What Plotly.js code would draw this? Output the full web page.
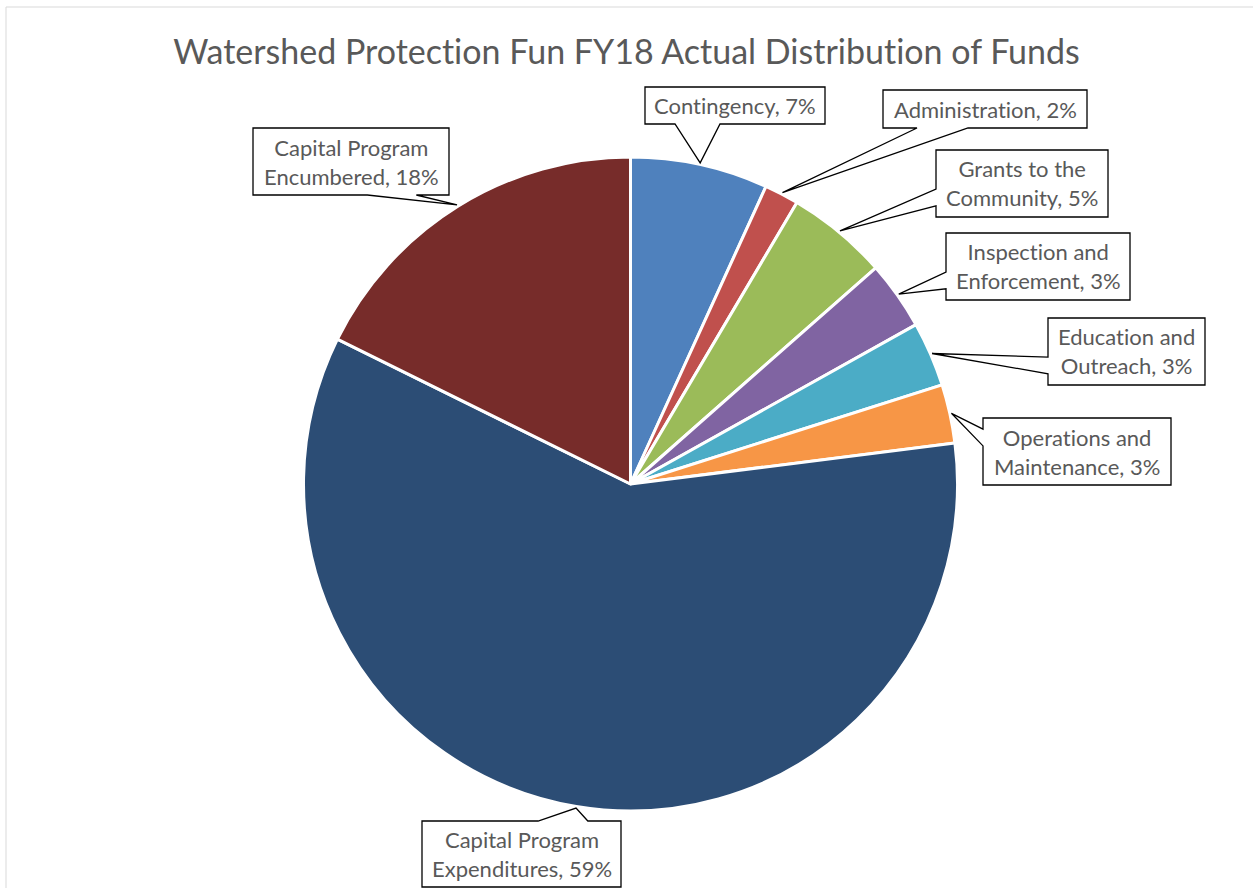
<!DOCTYPE html>
<html><head><meta charset="utf-8">
<script src="https://cdn.plot.ly/plotly-3.0.1.min.js"></script>
<style>html,body{margin:0;padding:0;background:#fff;} #chart{width:1253px;height:888px;}
svg text{font-variant-ligatures:none;font-feature-settings:"liga" 0,"clig" 0;}</style>
</head><body><div id="chart"></div>
<script>
// ---- data ----
const chartTitle = 'Watershed Protection Fun FY18 Actual Distribution of Funds';
const categories = ['Contingency', 'Administration', 'Grants to the Community', 'Inspection and Enforcement',
  'Education and Outreach', 'Operations and Maintenance', 'Capital Program Expenditures', 'Capital Program Encumbered'];
const shares = [6.8, 1.7, 5.0, 3.4, 3.2, 2.9, 59.3, 17.7];

// ---- styles / layout ----
const W = 1253, H = 888;
const sliceColors = ['#4F81BD', '#C0504D', '#9BBB59', '#8064A2', '#4BACC6', '#F79646', '#2C4D75', '#772C2A'];
const pieCenter = {x: 630.5, y: 484}, pieR = 327;
const textColor = '#595959';
const fontFam = 'Lato, "Open Sans", sans-serif';
// label boxes (pixel rectangles) and words on first line (0 = single line)
const boxes = [
  {x0: 645, y0: 87, x1: 825, y1: 124, first: 0},
  {x0: 883, y0: 90, x1: 1087, y1: 128, first: 0},
  {x0: 936, y0: 150, x1: 1108, y1: 217, first: 3},
  {x0: 946, y0: 233, x1: 1130, y1: 300, first: 2},
  {x0: 1048, y0: 318, x1: 1205, y1: 385, first: 2},
  {x0: 983, y0: 418, x1: 1171, y1: 485, first: 2},
  {x0: 422, y0: 821, x1: 621, y1: 887, first: 2},
  {x0: 253, y0: 128, x1: 449, y1: 195, first: 2}
];

const px = x => (x / W).toFixed(5);
const py = y => (1 - y / H).toFixed(5);

function calloutPath(b, tx, ty) {
  const w = b.x1 - b.x0, h = b.y1 - b.y0, cx = (b.x0 + b.x1) / 2, cy = (b.y0 + b.y1) / 2;
  const dxPos = tx - cx, dyPos = ty - cy;
  const dxs = dxPos * h / w;
  const inside = Math.abs(dxPos) < w / 2 && Math.abs(dyPos) < h / 2;
  const xa = b.x0 + w * (dxPos > 0 ? 7 : 2) / 12, xb = b.x0 + w * (dxPos > 0 ? 10 : 5) / 12;
  const ya = b.y0 + h * (dyPos > 0 ? 7 : 2) / 12, yb = b.y0 + h * (dyPos > 0 ? 10 : 5) / 12;
  let edge = null;
  if (!inside) {
    if (Math.abs(dxs) > Math.abs(dyPos)) edge = dxPos < 0 ? 'L' : 'R';
    else edge = dyPos < 0 ? 'T' : 'B';
  }
  const pts = [];
  pts.push([b.x0, b.y0]);
  if (edge === 'T') pts.push([xa, b.y0], [tx, ty], [xb, b.y0]);
  pts.push([b.x1, b.y0]);
  if (edge === 'R') pts.push([b.x1, ya], [tx, ty], [b.x1, yb]);
  pts.push([b.x1, b.y1]);
  if (edge === 'B') pts.push([xb, b.y1], [tx, ty], [xa, b.y1]);
  pts.push([b.x0, b.y1]);
  if (edge === 'L') pts.push([b.x0, yb], [tx, ty], [b.x0, ya]);
  return 'M' + pts.map(p => px(p[0]) + ',' + py(p[1])).join('L') + 'Z';
}

const total = shares.reduce((a, b) => a + b, 0);
const shapes = [{
  type: 'rect', xref: 'paper', yref: 'paper', x0: 6 / W, x1: 1.02, y0: -0.02, y1: 1 - 7 / H,
  line: {color: '#D9D9D9', width: 1}, fillcolor: 'rgba(0,0,0,0)', layer: 'below'
}];
const annotations = [];
let cum = 0;
categories.forEach((name, i) => {
  const mid = (cum + shares[i] / 2) / total * 2 * Math.PI;
  cum += shares[i];
  const rt = pieR * 1.005;
  const tx = pieCenter.x + rt * Math.sin(mid), ty = pieCenter.y - rt * Math.cos(mid);
  const b = boxes[i];
  shapes.push({type: 'path', xref: 'paper', yref: 'paper', path: calloutPath(b, tx, ty),
    fillcolor: '#FFFFFF', line: {color: '#000000', width: 1.3}, layer: 'above'});
  const words = name.split(' ');
  const pct = Math.round(shares[i] / total * 100) + '%';
  let txt;
  if (b.first > 0) txt = words.slice(0, b.first).join(' ') + '<br>' + words.slice(b.first).join(' ') + ', ' + pct;
  else txt = name + ', ' + pct;
  annotations.push({xref: 'paper', yref: 'paper', x: (b.x0 + b.x1) / 2 / W, y: 1 - (b.y0 + b.y1) / 2 / H,
    xanchor: 'center', yanchor: 'middle', showarrow: false, text: txt, align: 'center',
    font: {family: fontFam, size: 22, color: textColor}});
});

const trace = {
  type: 'pie', labels: categories, values: shares, sort: false, direction: 'clockwise', rotation: 0,
  textinfo: 'none', hoverinfo: 'skip',
  marker: {colors: sliceColors, line: {color: '#FFFFFF', width: 3}},
  domain: {x: [(pieCenter.x - pieR) / W, (pieCenter.x + pieR) / W],
           y: [(H - pieCenter.y - pieR) / H, (H - pieCenter.y + pieR) / H]}
};

const layout = {
  width: W, height: H, margin: {l: 0, r: 0, t: 0, b: 0}, showlegend: false,
  paper_bgcolor: '#FFFFFF', plot_bgcolor: '#FFFFFF',
  title: {text: chartTitle, x: 0.5, xanchor: 'center', y: 1 - 52 / H, yanchor: 'middle',
    font: {family: fontFam, size: 34, color: textColor}},
  shapes: shapes, annotations: annotations
};
Plotly.newPlot('chart', [trace], layout, {staticPlot: true, displayModeBar: false});
</script></body></html>
